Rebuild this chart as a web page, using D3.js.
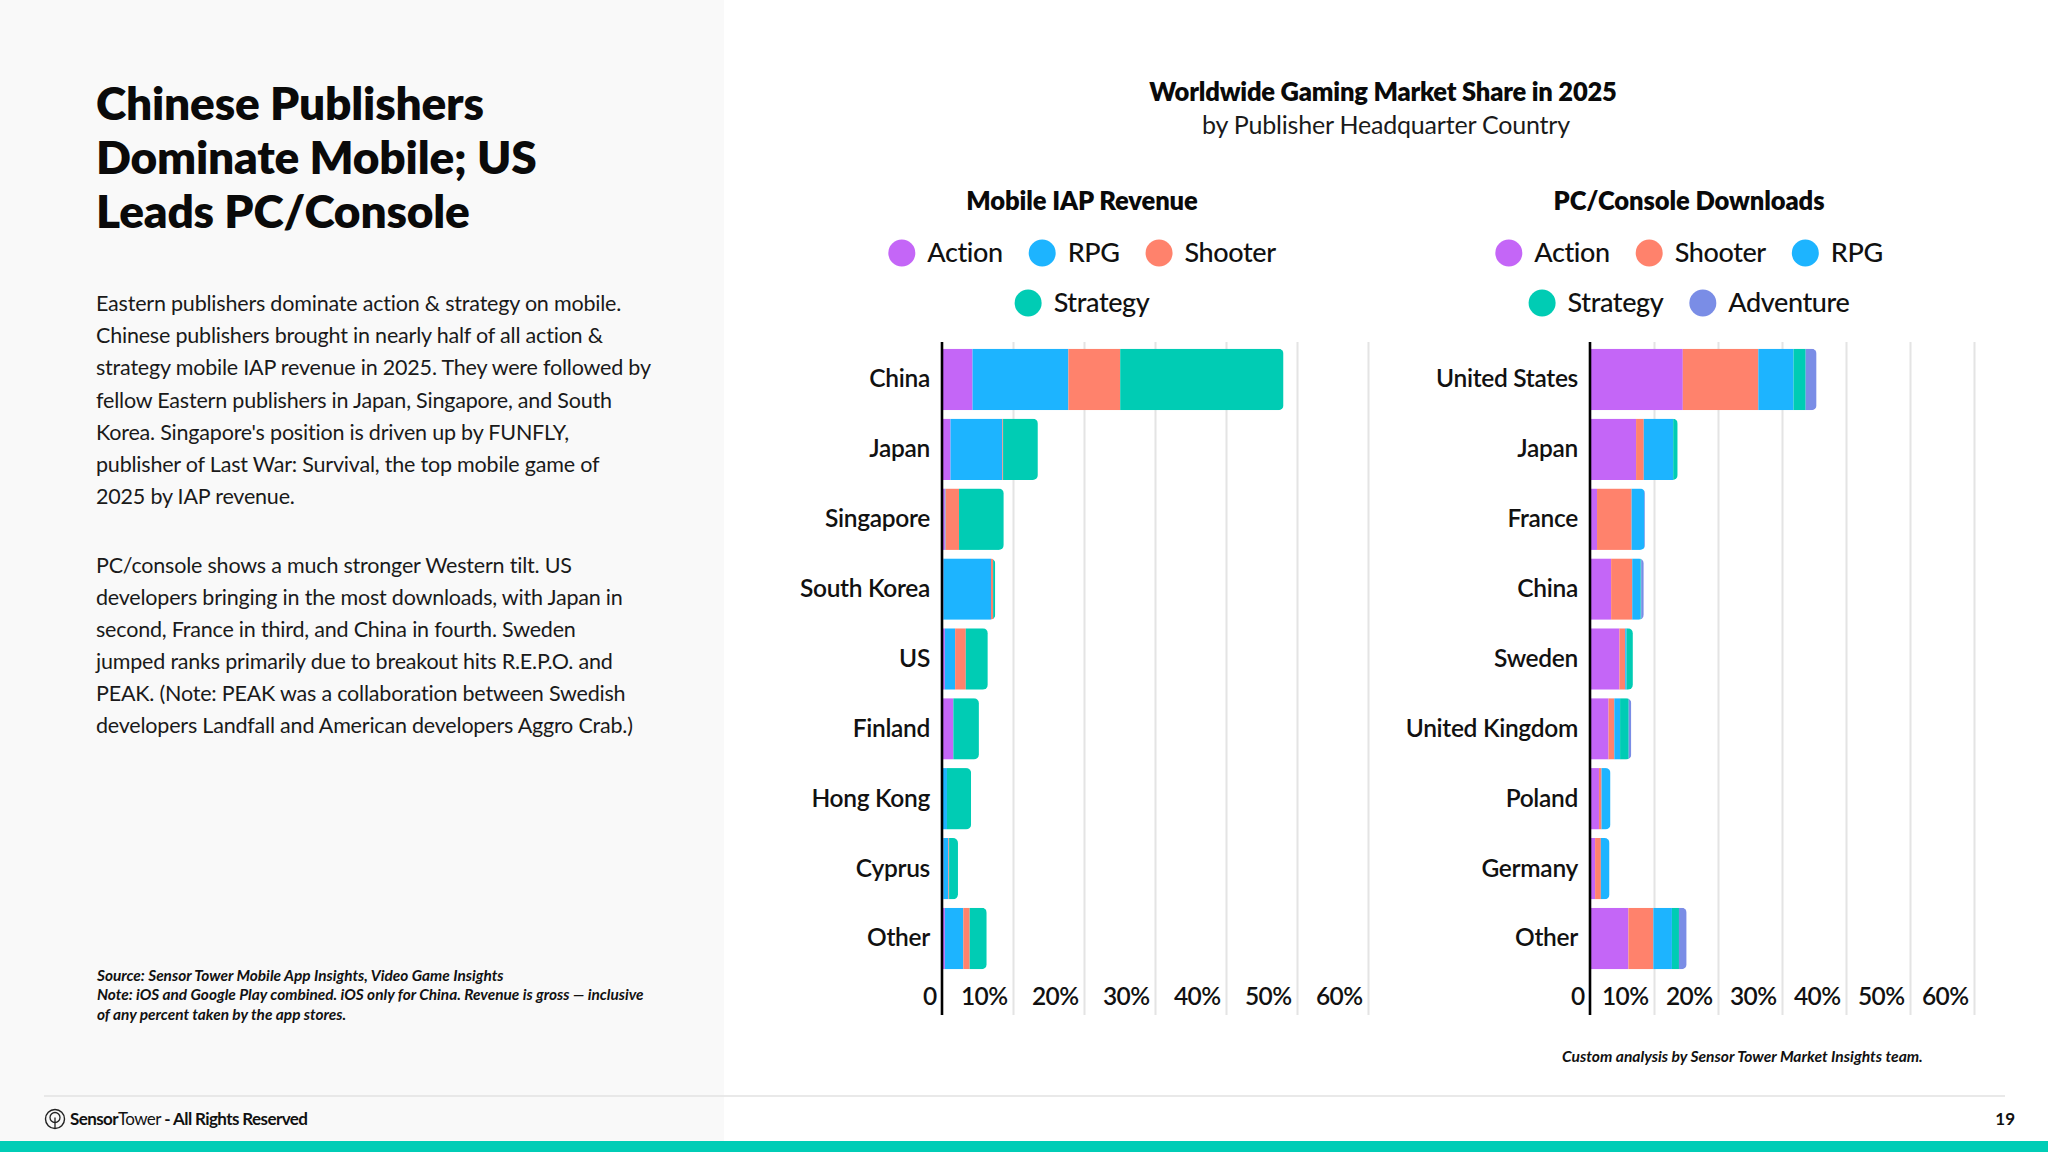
<!DOCTYPE html>
<html><head><meta charset="utf-8">
<script src="https://cdn.jsdelivr.net/npm/d3@7"></script>
<style>
html,body{margin:0;padding:0;background:#fff;}
svg{display:block;font-family:Lato,"Source Sans Pro",sans-serif;}
</style></head><body>
<svg id="c" width="2048" height="1152"></svg>
<script>
// ---------- DATA ----------
const titleLines = ["Chinese Publishers", "Dominate Mobile; US", "Leads PC/Console"];
const para1 = [
  "Eastern publishers dominate action & strategy on mobile.",
  "Chinese publishers brought in nearly half of all action &",
  "strategy mobile IAP revenue in 2025. They were followed by",
  "fellow Eastern publishers in Japan, Singapore, and South",
  "Korea. Singapore's position is driven up by FUNFLY,",
  "publisher of Last War: Survival, the top mobile game of",
  "2025 by IAP revenue."
];
const para2 = [
  "PC/console shows a much stronger Western tilt. US",
  "developers bringing in the most downloads, with Japan in",
  "second, France in third, and China in fourth. Sweden",
  "jumped ranks primarily due to breakout hits R.E.P.O. and",
  "PEAK. (Note: PEAK was a collaboration between Swedish",
  "developers Landfall and American developers Aggro Crab.)"
];
const sourceLines = [
  "Source: Sensor Tower Mobile App Insights, Video Game Insights",
  "Note: iOS and Google Play combined. iOS only for China. Revenue is gross \u2014 inclusive",
  "of any percent taken by the app stores."
];
const chartTitle = "Worldwide Gaming Market Share in 2025";
const chartSubtitle = "by Publisher Headquarter Country";
const creditText = "Custom analysis by Sensor Tower Market Insights team.";
const pageNumber = "19";

const tickValues = [0, 10, 20, 30, 40, 50, 60];

// Mobile IAP Revenue (% share)
const mobileTitle = "Mobile IAP Revenue";
const mobileCountries = ["China", "Japan", "Singapore", "South Korea", "US", "Finland", "Hong Kong", "Cyprus", "Other"];
const mobileGenres = ["Action", "RPG", "Shooter", "Strategy"];
const mobileAction   = [4.3, 1.2, 0.4, 0.2, 0.4, 1.6, 0.1, 0.2, 0.4];
const mobileRPG      = [13.5, 7.3, 0.1, 6.7, 1.45, 0.0, 0.6, 0.7, 2.6];
const mobileShooter  = [7.3, 0.1, 1.9, 0.3, 1.5, 0.0, 0.0, 0.1, 0.9];
const mobileStrategy = [23.0, 4.9, 6.3, 0.3, 3.1, 3.6, 3.4, 1.25, 2.4];

// PC/Console Downloads (% share)
const pcTitle = "PC/Console Downloads";
const pcCountries = ["United States", "Japan", "France", "China", "Sweden", "United Kingdom", "Poland", "Germany", "Other"];
const pcGenres = ["Action", "Shooter", "RPG", "Strategy", "Adventure"];
const pcAction    = [14.5, 7.2, 1.1, 3.3, 4.6, 2.9, 1.4, 0.8, 6.0];
const pcShooter   = [11.8, 1.2, 5.4, 3.3, 0.9, 0.9, 0.4, 0.9, 3.9];
const pcRPG       = [5.5, 4.6, 2.0, 1.3, 0.2, 0.9, 1.4, 1.35, 2.9];
const pcStrategy  = [1.9, 0.7, 0.0, 0.1, 1.0, 1.35, 0.0, 0.0, 1.1];
const pcAdventure = [1.7, 0.0, 0.1, 0.4, 0.0, 0.4, 0.0, 0.0, 1.2];

const genreColors = {
  Action: "#C466F7", RPG: "#1DB4FF", Shooter: "#FF826C", Strategy: "#00CCB4", Adventure: "#7A8DE6"
};

// ---------- DRAW ----------
const svg = d3.select("#c");
const W = 2048, H = 1152;

svg.append("rect").attr("width", W).attr("height", H).attr("fill", "#ffffff");
svg.append("rect").attr("x", 0).attr("y", 0).attr("width", 724).attr("height", 1141).attr("fill", "#f9f9f9");

// Title
svg.append("g").selectAll("text").data(titleLines).join("text")
  .attr("x", 96).attr("y", (d, i) => 120 + i * 54)
  .attr("font-size", 46).attr("font-weight", 800).attr("fill", "#0a0a0a")
  .attr("letter-spacing", -0.2)
  .text(d => d);

function paragraph(lines, y0, step) {
  svg.append("g").selectAll("text").data(lines).join("text")
    .attr("x", 96).attr("y", (d, i) => y0 + i * step)
    .attr("font-size", 21.5).attr("font-weight", 400).attr("fill", "#1a1a1a")
    .attr("letter-spacing", -0.2)
    .text(d => d);
}
paragraph(para1, 311, 32.2);
paragraph(para2, 573, 32);

svg.append("g").selectAll("text").data(sourceLines).join("text")
  .attr("x", 97).attr("y", (d, i) => 981 + i * 19.3)
  .attr("font-size", 15.4).attr("font-style", "italic").attr("font-weight", 700).attr("fill", "#111")
  .attr("letter-spacing", 0)
  .text(d => d);

// Chart header
svg.append("text").attr("x", 1383).attr("y", 101).attr("text-anchor", "middle")
  .attr("font-size", 25.5).attr("font-weight", 800).attr("fill", "#0a0a0a").attr("letter-spacing", -0.2)
  .text(chartTitle);
svg.append("text").attr("x", 1386).attr("y", 134).attr("text-anchor", "middle")
  .attr("font-size", 25).attr("font-weight", 400).attr("fill", "#1a1a1a").attr("letter-spacing", -0.2)
  .text(chartSubtitle);

function legend(genres, cx, rows) {
  const g = svg.append("g");
  const r = 13.5, gapText = 12, gapItem = 26;
  rows.forEach((rowIdx, ri) => {
    const items = rowIdx.map(i => genres[i]);
    const row = g.append("g");
    let xx = 0;
    items.forEach(name => {
      row.append("circle").attr("cx", xx + r).attr("cy", -9).attr("r", r).attr("fill", genreColors[name]);
      const t = row.append("text").attr("x", xx + 2 * r + gapText).attr("y", 0)
        .attr("font-size", 27).attr("font-weight", 500).attr("fill", "#111").attr("letter-spacing", -0.4)
        .text(name);
      xx += 2 * r + gapText + t.node().getComputedTextLength() + gapItem;
    });
    const total = xx - gapItem;
    row.attr("transform", `translate(${cx - total / 2},${262 + ri * 50})`);
  });
}

function drawChart(cfg) {
  const g = svg.append("g");
  const x = d3.scaleLinear().domain([0, 60]).range([cfg.x0, cfg.x1]);
  const y = d3.scaleBand().domain(cfg.countries).range([344.5, 973.5]).paddingInner(0.122).paddingOuter(0.061);
  const gridTop = 342, gridBottom = 1015;

  // subtitle
  svg.append("text").attr("x", cfg.titleX).attr("y", 210).attr("text-anchor", "middle")
    .attr("font-size", 25.5).attr("font-weight", 800).attr("fill", "#0a0a0a").attr("letter-spacing", -0.1)
    .text(cfg.title);
  legend(cfg.genres, cfg.titleX, cfg.legendRows);

  // x axis with gridlines
  const xAxis = d3.axisBottom(x).tickValues(tickValues)
    .tickFormat(d => d === 0 ? "0" : d + "%")
    .tickSize(-(gridBottom - gridTop)).tickPadding(0);
  const ax = g.append("g").attr("transform", `translate(0,${gridBottom})`).call(xAxis);
  ax.select(".domain").remove();
  ax.selectAll(".tick line").attr("stroke", "#e4e4e4").attr("stroke-width", 2)
    .filter(d => d === 0).remove();
  ax.selectAll(".tick text")
    .attr("text-anchor", "end").attr("x", -6).attr("y", -10).attr("dy", 0)
    .attr("font-family", "Lato, sans-serif").attr("font-size", 24.5).attr("font-weight", 600)
    .attr("fill", "#111").attr("letter-spacing", -0.6);

  // stacked data
  const rows = cfg.countries.map((c, i) => {
    const o = { country: c };
    cfg.genres.forEach((gn, j) => { o[gn] = cfg.series[j][i]; });
    return o;
  });
  const stacked = d3.stack().keys(cfg.genres)(rows);
  const totals = rows.map(r => d3.sum(cfg.genres, k => r[k]));

  const defs = svg.append("defs");
  cfg.countries.forEach((c, i) => {
    defs.append("clipPath").attr("id", `${cfg.id}-clip-${i}`)
      .append("rect")
      .attr("x", x(0) - 10).attr("y", y(c))
      .attr("width", x(totals[i]) - x(0) + 10).attr("height", y.bandwidth())
      .attr("rx", 5).attr("ry", 5);
  });

  const bars = g.append("g");
  cfg.countries.forEach((c, i) => {
    const rowG = bars.append("g").attr("clip-path", `url(#${cfg.id}-clip-${i})`);
    stacked.forEach(layer => {
      const seg = layer[i];
      const w = x(seg[1]) - x(seg[0]);
      if (w <= 0) return;
      rowG.append("rect")
        .attr("x", x(seg[0])).attr("y", y(c))
        .attr("width", w).attr("height", y.bandwidth())
        .attr("fill", genreColors[layer.key]);
    });
  });

  // category axis
  const yAxis = d3.axisLeft(y).tickSize(0).tickPadding(0);
  const ay = g.append("g").attr("transform", `translate(${cfg.labelX},0)`).call(yAxis);
  ay.select(".domain").remove();
  ay.selectAll(".tick text")
    .attr("font-family", "Lato, sans-serif").attr("font-size", 24.5).attr("font-weight", 600)
    .attr("fill", "#111").attr("letter-spacing", -0.3);

  // zero line
  g.append("line").attr("x1", x(0)).attr("x2", x(0)).attr("y1", gridTop).attr("y2", gridBottom)
    .attr("stroke", "#000").attr("stroke-width", 2.6);
}

drawChart({
  id: "mob", title: mobileTitle, titleX: 1082, countries: mobileCountries, genres: mobileGenres,
  series: [mobileAction, mobileRPG, mobileShooter, mobileStrategy],
  x0: 942, x1: 1368, labelX: 930, legendRows: [[0, 1, 2], [3]]
});
drawChart({
  id: "pc", title: pcTitle, titleX: 1689, countries: pcCountries, genres: pcGenres,
  series: [pcAction, pcShooter, pcRPG, pcStrategy, pcAdventure],
  x0: 1590, x1: 1974, labelX: 1578, legendRows: [[0, 1, 2], [3, 4]]
});

// credit
svg.append("text").attr("x", 1562).attr("y", 1062)
  .attr("font-size", 15.6).attr("font-style", "italic").attr("font-weight", 700).attr("fill", "#111")
  .attr("letter-spacing", 0)
  .text(creditText);

// footer
svg.append("line").attr("x1", 44).attr("x2", 2005).attr("y1", 1096).attr("y2", 1096)
  .attr("stroke", "#e2e2e2").attr("stroke-width", 1.5);
const logo = svg.append("g").attr("transform", "translate(55,1119)");
logo.append("circle").attr("r", 9.5).attr("fill", "none").attr("stroke", "#222").attr("stroke-width", 1.4);
logo.append("circle").attr("cy", -1.5).attr("r", 5).attr("fill", "none").attr("stroke", "#222").attr("stroke-width", 1.3);
logo.append("line").attr("y1", -1.5).attr("y2", 9.5).attr("stroke", "#222").attr("stroke-width", 1.3);
const ft = svg.append("text").attr("x", 70).attr("y", 1125).attr("font-size", 17).attr("fill", "#111").attr("letter-spacing", -0.6);
ft.append("tspan").attr("font-weight", 700).text("Sensor");
ft.append("tspan").attr("font-weight", 400).text("Tower");
ft.append("tspan").attr("font-weight", 700).text(" - All Rights Reserved");
svg.append("text").attr("x", 2015).attr("y", 1125).attr("text-anchor", "end")
  .attr("font-size", 17).attr("font-weight", 700).attr("fill", "#111").text(pageNumber);

svg.append("rect").attr("x", 0).attr("y", 1141).attr("width", W).attr("height", H - 1141).attr("fill", "#00CDB6");
</script>
</body></html>
